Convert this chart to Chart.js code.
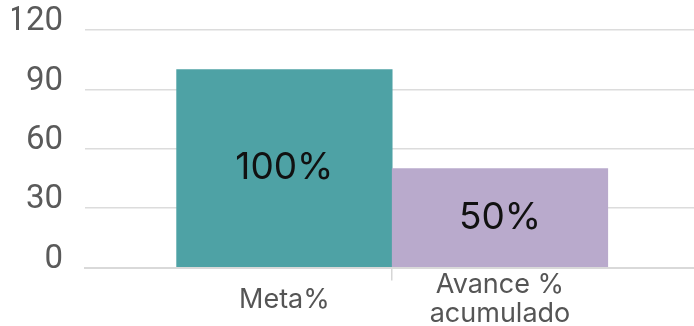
<!DOCTYPE html>
<html>
<head>
<meta charset="utf-8">
<script src="https://cdn.jsdelivr.net/npm/chart.js@4.4.0/dist/chart.umd.min.js"></script>
<style>
  html, body { margin: 0; padding: 0; background: #fff; }
  #wrap { width: 694px; height: 326px; }
</style>
</head>
<body>
<div id="wrap"><canvas id="chart"></canvas></div>
<script>
const categories = ['Meta%', ['Avance %', 'acumulado']];
const values = [100, 50];
const barColors = ['#4ea2a5', '#b9aacc'];
const yTicks = [0, 30, 60, 90, 120];

// percentage label in the middle of each bar
const barValueLabels = {
    id: 'barValueLabels',
    afterDatasetsDraw(chart) {
        const ctx = chart.ctx;
        const meta = chart.getDatasetMeta(0);
        ctx.save();
        ctx.font = '37px Inter';
        ctx.fillStyle = '#111111';
        ctx.textAlign = 'center';
        ctx.textBaseline = 'middle';
        meta.data.forEach((bar, i) => {
            ctx.fillText(values[i] + '%', bar.x, (bar.y + bar.base) / 2);
        });
        ctx.restore();
    }
};

new Chart(document.getElementById('chart'), {
    type: 'bar',
    data: {
        datasets: [{
            data: values.map((v, i) => ({ x: i + 1, y: v })),
            backgroundColor: barColors,
            barPercentage: 1,
            categoryPercentage: 1
        }]
    },
    options: {
        responsive: true,
        maintainAspectRatio: false,
        animation: false,
        layout: { padding: { left: 12, top: 30, right: 0, bottom: 0 } },
        plugins: {
            legend: { display: false },
            tooltip: { enabled: false }
        },
        scales: {
            x: {
                type: 'linear',
                offset: false,
                min: 0.075,
                max: 2.9,
                afterBuildTicks: axis => {
                    axis.ticks = categories.map((c, i) => ({ value: i + 1 }));
                },
                afterFit: axis => {
                    axis.height = 58.5;
                },
                ticks: {
                    callback: (v, i) => categories[i],
                    font: { family: 'Inter', size: 27, lineHeight: 1.08 },
                    color: '#555555',
                    padding: 4.5,
                    crossAlign: 'center',
                    maxRotation: 0,
                    autoSkip: false
                },
                grid: {
                    offset: true,
                    drawOnChartArea: false,
                    tickLength: 13,
                    // only the divider between the two bars gets a tick mark
                    color: ctx => ctx.index === 1 ? '#d6d6d6' : 'rgba(0,0,0,0)',
                    lineWidth: 1.5
                },
                border: { color: '#d9d9d9', width: 2 }
            },
            y: {
                min: 0,
                max: 120,
                afterBuildTicks: axis => {
                    axis.ticks = yTicks.map(v => ({ value: v }));
                },
                afterFit: axis => {
                    axis.width = 73;
                    axis.paddingTop = 0;
                    axis.paddingBottom = 0;
                },
                ticks: {
                    font: { family: 'Roboto', size: 33 },
                    color: '#5a5a5a',
                    padding: 22,
                    labelOffset: -8
                },
                grid: { color: '#dcdcdc', lineWidth: 1.5, drawTicks: false },
                border: { display: false }
            }
        }
    },
    plugins: [barValueLabels]
});
</script>
</body>
</html>
